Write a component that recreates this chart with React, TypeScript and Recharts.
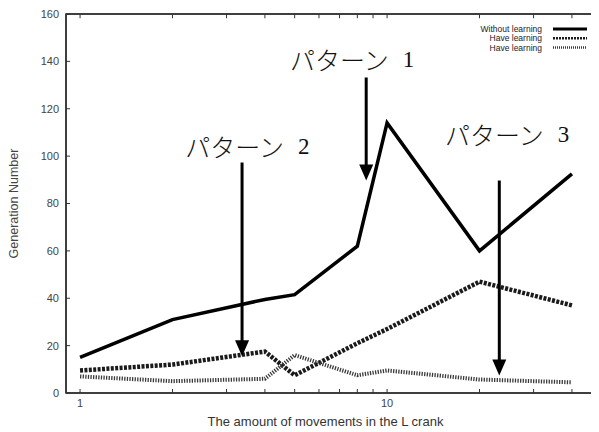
import * as React from "react";
import {
  LineChart,
  Line,
  XAxis,
  YAxis,
  ReferenceLine,
  ReferenceDot,
  ReferenceArea,
} from "recharts";

// x values (log axis) and the three series
const moves = [1, 2, 4, 5, 8, 10, 20, 40];
const withoutLearning = [15, 31, 39.5, 41.5, 62, 114, 60, 92.5];
const haveLearningA = [9.5, 12, 17.5, 7.5, 21, 27, 47, 37];
const haveLearningB = [7, 5, 6, 16, 7.5, 9.5, 5.7, 4.5];

const xTicks = [1, 2, 3, 4, 5, 6, 7, 8, 9, 10, 20, 30, 40];
const xTickLabels = [1, 10];
const yTicks = [0, 20, 40, 60, 80, 100, 120, 140, 160];
const xDomain = [0.9, 49];
const yMax = 160;

const data = moves.map((m, i) => ({
  moves: m,
  without: withoutLearning[i],
  haveA: haveLearningA[i],
  haveB: haveLearningB[i],
}));

interface SeriesDef {
  key: string;
  name: string;
  color: string;
  width: number;
  dash?: string;
  legendDash?: string;
}

const series: SeriesDef[] = [
  { key: "without", name: "Without learning", color: "#000", width: 3.5 },
  { key: "haveA", name: "Have learning", color: "#1a1a1a", width: 4.5, dash: "3 1.4", legendDash: "2 1" },
  { key: "haveB", name: "Have learning", color: "#3a3a3a", width: 4, dash: "1.3 1.3", legendDash: "1 1" },
];

// annotations, in data coordinates
const patterns = [
  { label: "パターン", num: "1", x: 4.83, y: 141 },
  { label: "パターン", num: "2", x: 2.2, y: 104.4 },
  { label: "パターン", num: "3", x: 15.45, y: 109.5 },
];
const arrows = [
  { x: 8.55, from: 133.2, to: 89.7 },
  { x: 3.37, from: 97.3, to: 15.5 },
  { x: 23.2, from: 89.7, to: 7.4 },
];

const axisFont = "'Liberation Sans', Arial, sans-serif";
const tickStyle = { fill: "#444", fontSize: 11, fontFamily: axisFont };
const CHART_W = 591;
const Y_AXIS_W = 58;
const TOP = 6;

function ArrowHead(props: any) {
  const { cx, cy } = props;
  return (
    <polygon
      points={`${cx},${cy} ${cx - 7},${cy - 16} ${cx + 7},${cy - 16}`}
      fill="#000"
    />
  );
}

function PatternText(props: any) {
  const { cx, cy, label, num } = props;
  return (
    <text
      x={cx}
      y={cy}
      dominantBaseline="central"
      fill="#111"
      fontFamily="'Noto Sans CJK JP', sans-serif"
      fontWeight={300}
      fontSize={25}
    >
      <tspan>{label}</tspan>
      <tspan dx={14} fontSize={23} fontFamily="'Liberation Serif', serif">
        {num}
      </tspan>
    </text>
  );
}

// y-axis title, top edge of the frame and the key, all in the svg
function FrameDecor(props: any) {
  const vb = props.viewBox || { x: 0, y: TOP, width: Y_AXIS_W, height: 379 };
  const cy = vb.y + vb.height / 2;
  const lx = 6;
  return (
    <g>
      <line
        x1={Y_AXIS_W}
        x2={CHART_W}
        y1={TOP}
        y2={TOP}
        stroke="#333"
        strokeWidth={1.5}
      />
      <text
        x={lx}
        y={cy}
        transform={`rotate(-90, ${lx}, ${cy})`}
        textAnchor="middle"
        dominantBaseline="central"
        fill="#444"
        fontSize={12.5}
        fontFamily={axisFont}
      >
        Generation Number
      </text>
      {series.map((s, i) => (
        <g key={s.key}>
          <text
            x={534}
            y={21 + i * 9.3}
            textAnchor="end"
            dominantBaseline="central"
            fill="#222"
            fontSize={8.5}
            fontFamily={axisFont}
          >
            {s.name}
          </text>
          <line
            x1={545}
            x2={579}
            y1={21 + i * 9.3}
            y2={21 + i * 9.3}
            stroke={s.color}
            strokeWidth={s.key === "without" ? 3 : 2.5}
            strokeDasharray={s.legendDash}
          />
        </g>
      ))}
    </g>
  );
}

export default function App() {
  return (
    <LineChart
      width={CHART_W}
      height={424}
      data={data}
      margin={{ top: TOP, right: 0, left: 0, bottom: 0 }}
    >
      <XAxis
        dataKey="moves"
        type="number"
        scale="log"
        domain={xDomain}
        allowDataOverflow
        ticks={xTicks}
        tickFormatter={(v: number) => (xTickLabels.includes(v) ? String(v) : "")}
        tick={tickStyle}
        tickSize={-4}
        tickMargin={10}
        tickLine={{ stroke: "#333" }}
        axisLine={{ stroke: "#333", strokeWidth: 1.5 }}
        height={39}
        interval={0}
        label={{
          value: "The amount of movements in the L crank",
          position: "insideBottom",
          offset: 6,
          dx: -7,
          fill: "#333",
          fontSize: 13,
          fontFamily: axisFont,
        }}
      />
      <YAxis
        domain={[0, yMax]}
        ticks={yTicks}
        tick={tickStyle}
        tickSize={-4}
        tickMargin={11}
        tickLine={{ stroke: "#333" }}
        axisLine={{ stroke: "#333", strokeWidth: 1.5 }}
        width={Y_AXIS_W}
        interval={0}
        label={<FrameDecor />}
      />
      <ReferenceArea
        x1={xDomain[0]}
        x2={xDomain[1]}
        y1={0}
        y2={yMax}
        fill="none"
        fillOpacity={0}
        stroke="#333"
        strokeWidth={1.5}
        ifOverflow="visible"
      />
      {xTicks.map((t) => (
        <ReferenceLine
          key={`tt-${t}`}
          segment={[
            { x: t, y: yMax - 0.2 },
            { x: t, y: yMax - 1.8 },
          ]}
          stroke="#333"
          strokeWidth={1}
        />
      ))}
      {series.map((s) => (
        <Line
          key={s.key}
          type="linear"
          dataKey={s.key}
          name={s.name}
          stroke={s.color}
          strokeWidth={s.width}
          strokeDasharray={s.dash}
          dot={false}
          activeDot={false}
          isAnimationActive={false}
        />
      ))}
      {arrows.map((a, i) => (
        <ReferenceLine
          key={`shaft-${i}`}
          segment={[
            { x: a.x, y: a.from },
            { x: a.x, y: a.to + 5 },
          ]}
          stroke="#000"
          strokeWidth={3}
        />
      ))}
      {arrows.map((a, i) => (
        <ReferenceDot
          key={`head-${i}`}
          x={a.x}
          y={a.to}
          r={1}
          shape={<ArrowHead />}
        />
      ))}
      {patterns.map((p, i) => (
        <ReferenceDot
          key={`pat-${i}`}
          x={p.x}
          y={p.y}
          r={1}
          shape={<PatternText label={p.label} num={p.num} />}
        />
      ))}
    </LineChart>
  );
}
